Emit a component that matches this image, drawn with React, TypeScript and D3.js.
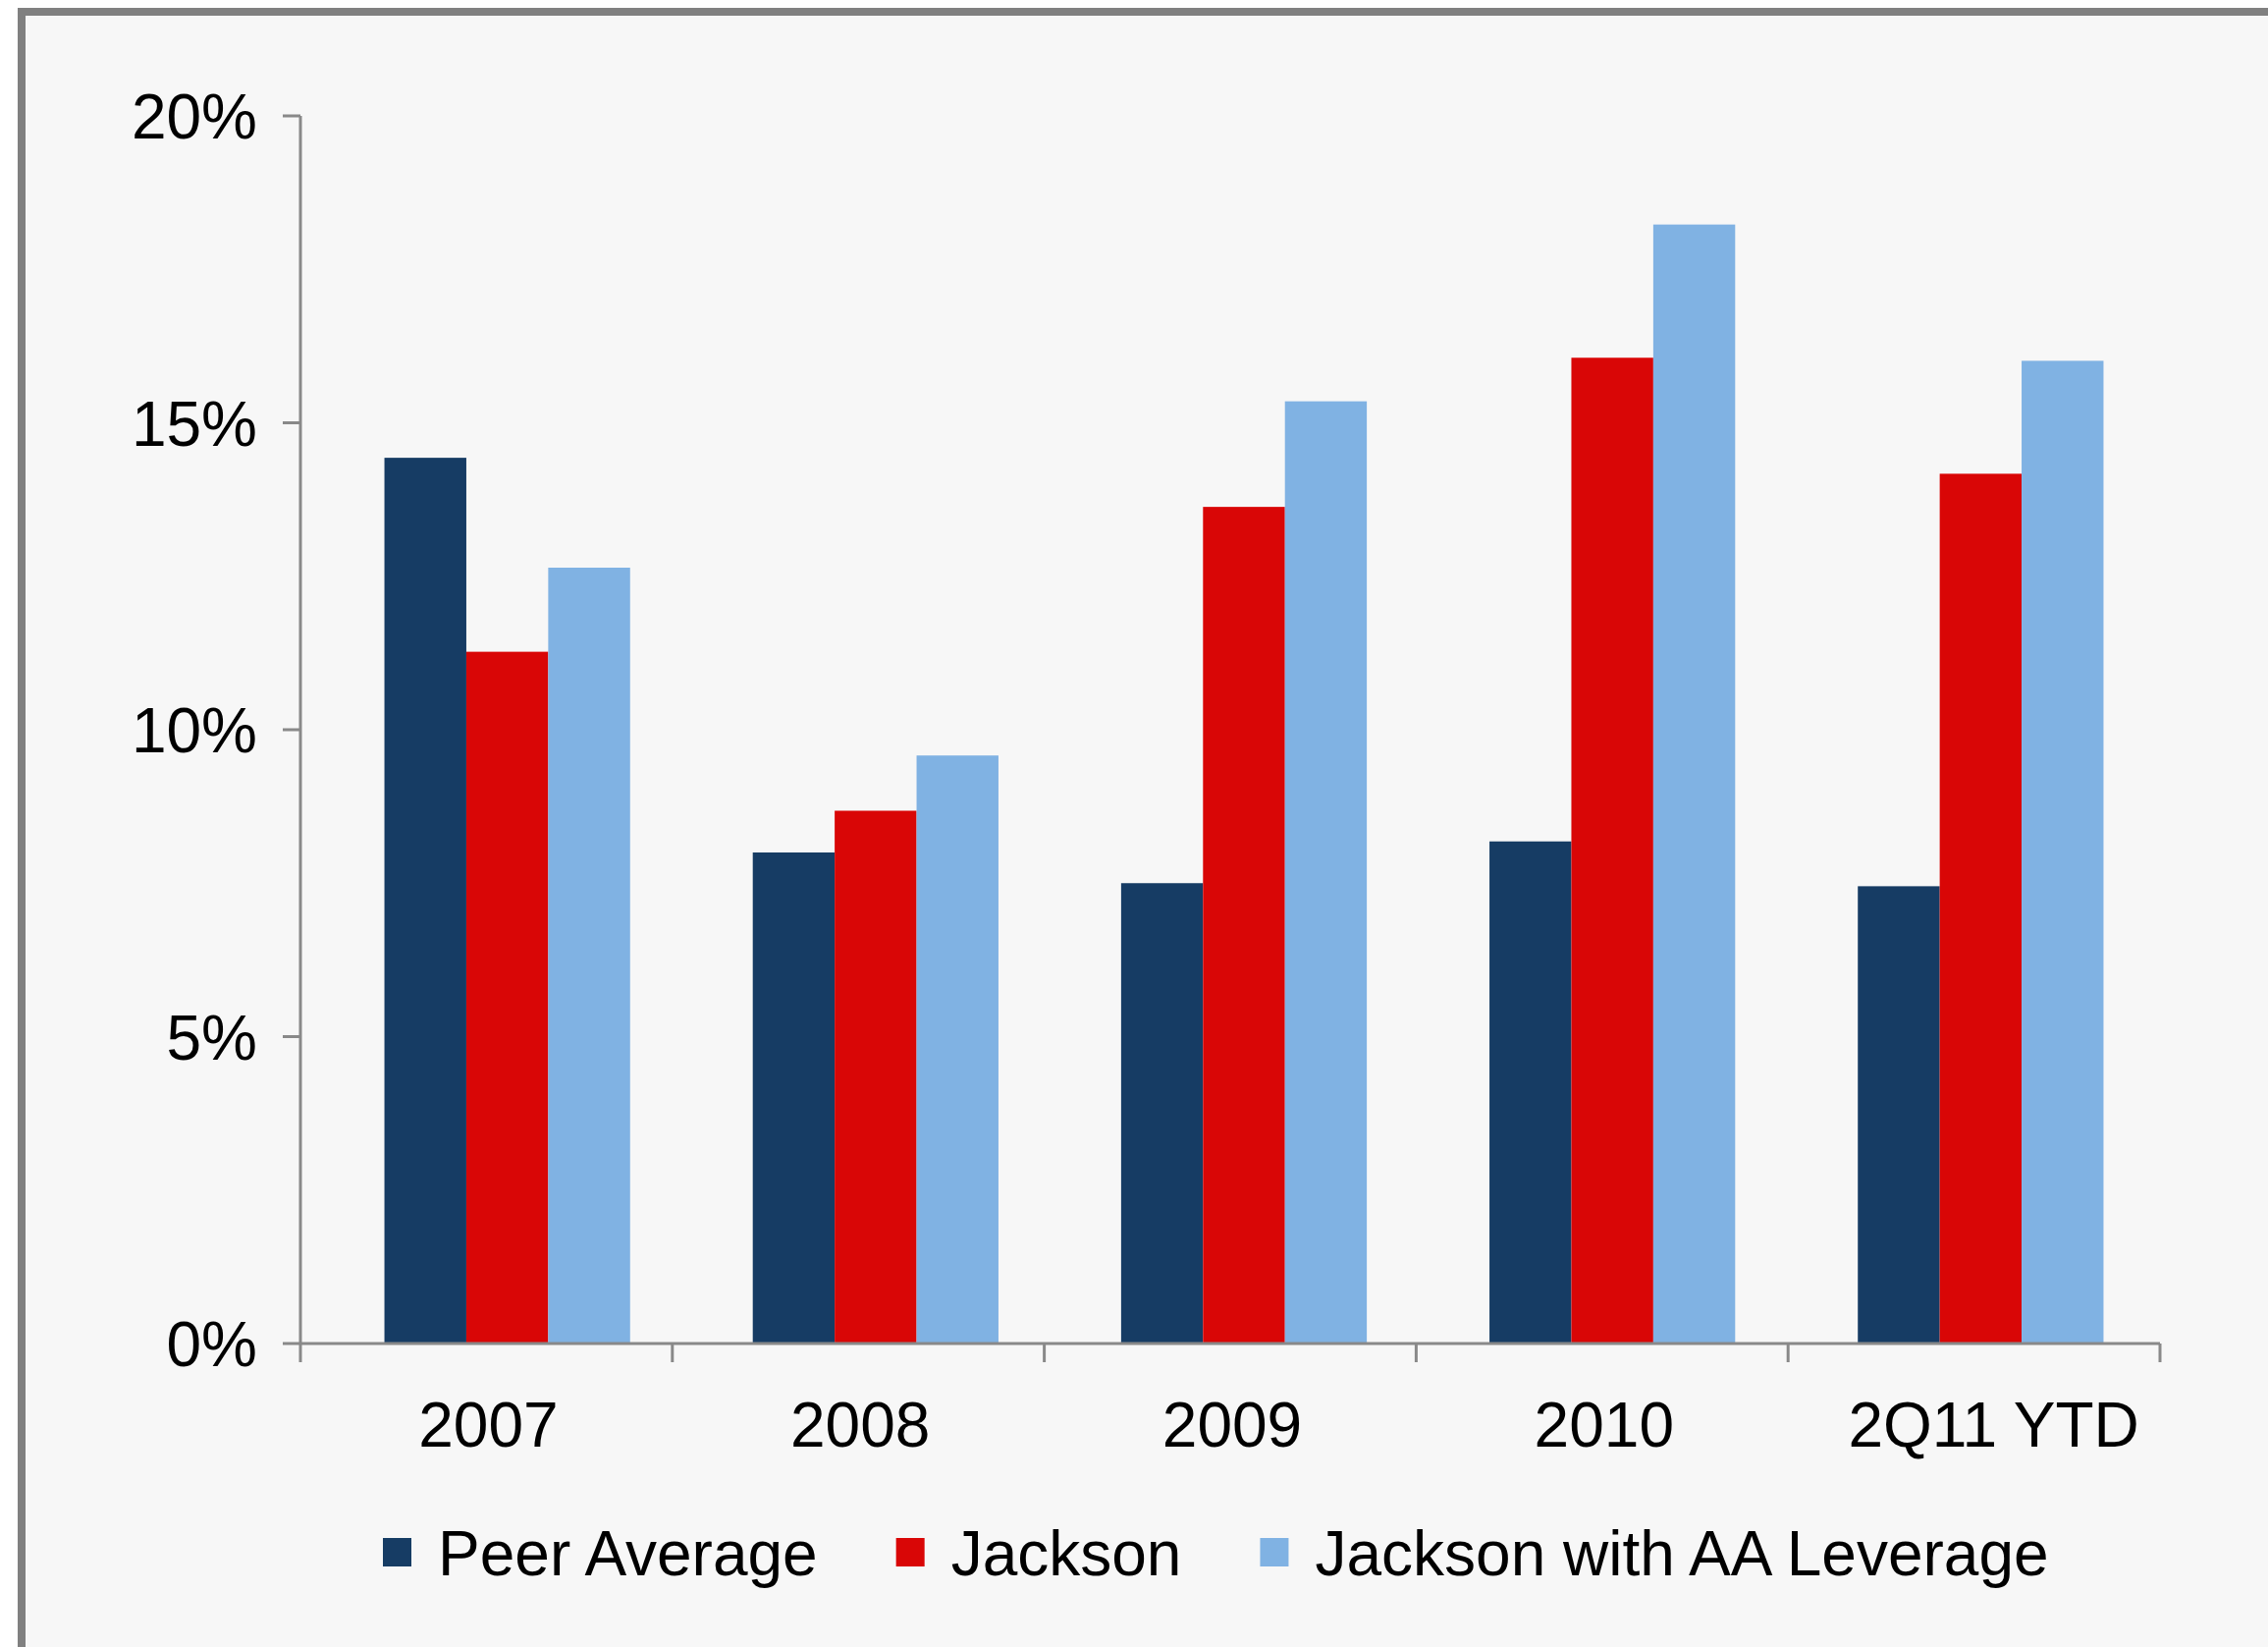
import { useRef, useEffect } from "react";
import * as d3 from "d3";

const categories = ["2007", "2008", "2009", "2010", "2Q11 YTD"];
const seriesNames = ["Peer Average", "Jackson", "Jackson with AA Leverage"];
const peerAverage = [14.43, 8.0, 7.5, 8.18, 7.45];
const jackson = [11.27, 8.68, 13.63, 16.06, 14.17];
const jacksonAA = [12.64, 9.58, 15.35, 18.23, 16.01];
const yTicks = [0, 5, 10, 15, 20];
const colors = ["#163c64", "#d90606", "#80b2e3"];

export default function App() {
  const ref = useRef<HTMLDivElement>(null);

  function init() {
    document.body.style.margin = "0";
    const el = ref.current;
    if (!el) return;
    el.innerHTML = "";

    const settings = {
      width: 2310,
      height: 1677,
      plot: { left: 306, right: 2200, top: 118, bottom: 1368 },
      barRange: [329, 2205],
    };
    const { plot } = settings;
    const axisColor = "#898989";
    const font = "'Liberation Sans', Arial, sans-serif";

    const series = [peerAverage, jackson, jacksonAA];
    const data = categories.map((c, i) => ({
      cat: c,
      values: series.map((s, j) => ({ key: seriesNames[j], value: s[i] })),
    }));

    const xAxisScale = d3
      .scaleBand()
      .domain(categories)
      .range([plot.left, plot.right])
      .padding(0);

    const x0 = d3
      .scaleBand()
      .domain(categories)
      .range(settings.barRange)
      .paddingInner(0.333)
      .paddingOuter(0.1667);

    const x1 = d3
      .scaleBand()
      .domain(seriesNames)
      .range([0, x0.bandwidth()])
      .padding(0);

    const y = d3.scaleLinear().domain([0, 20]).range([plot.bottom, plot.top]);

    const color = d3.scaleOrdinal<string>().domain(seriesNames).range(colors);

    const svg = d3
      .select(el)
      .append("svg")
      .attr("width", settings.width)
      .attr("height", settings.height)
      .attr("viewBox", [0, 0, settings.width, settings.height].join(" "))
      .style("display", "block")
      .attr("font-family", font);

    svg
      .append("rect")
      .attr("width", settings.width)
      .attr("height", settings.height)
      .attr("fill", "#ffffff");

    // chart frame (extends past right/bottom edges)
    svg
      .append("rect")
      .attr("x", 22)
      .attr("y", 12)
      .attr("width", 2400)
      .attr("height", 1800)
      .attr("fill", "#f7f7f7")
      .attr("stroke", "#808080")
      .attr("stroke-width", 8);

    // bars
    svg
      .append("g")
      .selectAll("g")
      .data(data)
      .join("g")
      .attr("transform", (d) => `translate(${x0(d.cat)},0)`)
      .selectAll("rect")
      .data((d) => d.values)
      .join("rect")
      .attr("x", (d) => x1(d.key)!)
      .attr("y", (d) => y(d.value))
      .attr("width", x1.bandwidth())
      .attr("height", (d) => y(0) - y(d.value))
      .attr("fill", (d) => color(d.key));

    // y axis
    const yAxis = svg.append("g").attr("stroke", axisColor).attr("stroke-width", 3);
    yAxis
      .append("line")
      .attr("x1", plot.left)
      .attr("x2", plot.left)
      .attr("y1", y(20))
      .attr("y2", y(0));
    yAxis
      .selectAll("line.tick")
      .data(yTicks)
      .join("line")
      .attr("class", "tick")
      .attr("x1", plot.left - 18)
      .attr("x2", plot.left)
      .attr("y1", (d) => y(d))
      .attr("y2", (d) => y(d));

    svg
      .append("g")
      .selectAll("text")
      .data(yTicks)
      .join("text")
      .attr("x", 262)
      .attr("y", (d) => y(d))
      .attr("dy", "0.36em")
      .attr("text-anchor", "end")
      .attr("font-size", 64)
      .attr("fill", "#000")
      .text((d) => `${d}%`);

    // x axis
    const xAxis = svg.append("g").attr("stroke", axisColor).attr("stroke-width", 3);
    xAxis
      .append("line")
      .attr("x1", plot.left)
      .attr("x2", plot.right)
      .attr("y1", y(0))
      .attr("y2", y(0));
    const boundaries = categories.map((c) => xAxisScale(c)!).concat([plot.right]);
    xAxis
      .selectAll("line.tick")
      .data(boundaries)
      .join("line")
      .attr("class", "tick")
      .attr("x1", (d) => d)
      .attr("x2", (d) => d)
      .attr("y1", y(0))
      .attr("y2", y(0) + 19);

    svg
      .append("g")
      .selectAll("text")
      .data(categories)
      .join("text")
      .attr("x", (d, i) =>
        xAxisScale(d)! + xAxisScale.bandwidth() / 2 + (i === categories.length - 1 ? 20 : 2)
      )
      .attr("y", 1473)
      .attr("text-anchor", "middle")
      .attr("font-size", 64)
      .attr("fill", "#000")
      .text((d) => d);

    // legend
    const legend = svg.append("g").attr("transform", "translate(390,1581)");
    let cursor = 0;
    seriesNames.forEach((name) => {
      const item = legend.append("g").attr("transform", `translate(${cursor},0)`);
      item
        .append("rect")
        .attr("x", 0)
        .attr("y", -15)
        .attr("width", 29)
        .attr("height", 29)
        .attr("fill", color(name));
      const t = item
        .append("text")
        .attr("x", 56)
        .attr("y", 0)
        .attr("dy", "0.36em")
        .attr("font-size", 64)
        .attr("fill", "#000")
        .text(name);
      const w = (t.node() as SVGTextElement).getComputedTextLength();
      cursor += 56 + w + 80;
    });
  }

  useEffect(init, []);
  return <div ref={ref}></div>;
}
